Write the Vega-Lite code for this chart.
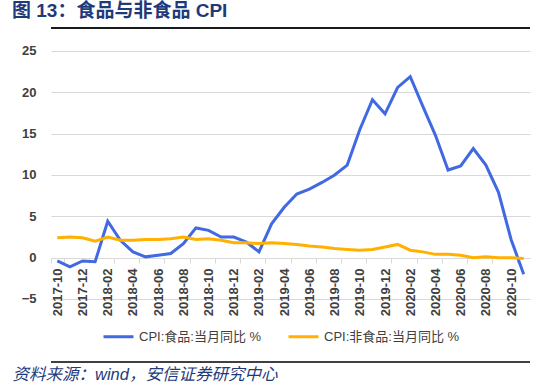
{
  "$schema": "https://vega.github.io/schema/vega-lite/v6.json",
  "width": 479,
  "height": 336,
  "autosize": "none",
  "padding": {"left": 51, "top": 27, "right": 20, "bottom": 24},
  "background": "white",
  "config": {"view": {"stroke": null}, "font": "Liberation Sans, Noto Sans CJK SC"},
  "title": {
    "text": "图 13：食品与非食品 CPI",
    "anchor": "start",
    "frame": "group",
    "dx": -39,
    "offset": 6,
    "fontSize": 19,
    "fontWeight": "bold",
    "color": "#1F3A7A",
    "font": "Liberation Sans, Noto Sans CJK SC"
  },
  "data": {
    "values": [
      {"month": "2017-10", "series": "CPI:食品:当月同比 %", "value": -0.4},
      {"month": "2017-11", "series": "CPI:食品:当月同比 %", "value": -1.1},
      {"month": "2017-12", "series": "CPI:食品:当月同比 %", "value": -0.4},
      {"month": "2018-01", "series": "CPI:食品:当月同比 %", "value": -0.5},
      {"month": "2018-02", "series": "CPI:食品:当月同比 %", "value": 4.4},
      {"month": "2018-03", "series": "CPI:食品:当月同比 %", "value": 2.1},
      {"month": "2018-04", "series": "CPI:食品:当月同比 %", "value": 0.7},
      {"month": "2018-05", "series": "CPI:食品:当月同比 %", "value": 0.1},
      {"month": "2018-06", "series": "CPI:食品:当月同比 %", "value": 0.3},
      {"month": "2018-07", "series": "CPI:食品:当月同比 %", "value": 0.5},
      {"month": "2018-08", "series": "CPI:食品:当月同比 %", "value": 1.7},
      {"month": "2018-09", "series": "CPI:食品:当月同比 %", "value": 3.6},
      {"month": "2018-10", "series": "CPI:食品:当月同比 %", "value": 3.3},
      {"month": "2018-11", "series": "CPI:食品:当月同比 %", "value": 2.5},
      {"month": "2018-12", "series": "CPI:食品:当月同比 %", "value": 2.5},
      {"month": "2019-01", "series": "CPI:食品:当月同比 %", "value": 1.9},
      {"month": "2019-02", "series": "CPI:食品:当月同比 %", "value": 0.7},
      {"month": "2019-03", "series": "CPI:食品:当月同比 %", "value": 4.1},
      {"month": "2019-04", "series": "CPI:食品:当月同比 %", "value": 6.1},
      {"month": "2019-05", "series": "CPI:食品:当月同比 %", "value": 7.7},
      {"month": "2019-06", "series": "CPI:食品:当月同比 %", "value": 8.3},
      {"month": "2019-07", "series": "CPI:食品:当月同比 %", "value": 9.1},
      {"month": "2019-08", "series": "CPI:食品:当月同比 %", "value": 10.0},
      {"month": "2019-09", "series": "CPI:食品:当月同比 %", "value": 11.2},
      {"month": "2019-10", "series": "CPI:食品:当月同比 %", "value": 15.5},
      {"month": "2019-11", "series": "CPI:食品:当月同比 %", "value": 19.1},
      {"month": "2019-12", "series": "CPI:食品:当月同比 %", "value": 17.4},
      {"month": "2020-01", "series": "CPI:食品:当月同比 %", "value": 20.6},
      {"month": "2020-02", "series": "CPI:食品:当月同比 %", "value": 21.9},
      {"month": "2020-03", "series": "CPI:食品:当月同比 %", "value": 18.3},
      {"month": "2020-04", "series": "CPI:食品:当月同比 %", "value": 14.8},
      {"month": "2020-05", "series": "CPI:食品:当月同比 %", "value": 10.6},
      {"month": "2020-06", "series": "CPI:食品:当月同比 %", "value": 11.1},
      {"month": "2020-07", "series": "CPI:食品:当月同比 %", "value": 13.2},
      {"month": "2020-08", "series": "CPI:食品:当月同比 %", "value": 11.2},
      {"month": "2020-09", "series": "CPI:食品:当月同比 %", "value": 7.9},
      {"month": "2020-10", "series": "CPI:食品:当月同比 %", "value": 2.2},
      {"month": "2020-11", "series": "CPI:食品:当月同比 %", "value": -2.0},
      {"month": "2017-10", "series": "CPI:非食品:当月同比 %", "value": 2.4},
      {"month": "2017-11", "series": "CPI:非食品:当月同比 %", "value": 2.5},
      {"month": "2017-12", "series": "CPI:非食品:当月同比 %", "value": 2.4},
      {"month": "2018-01", "series": "CPI:非食品:当月同比 %", "value": 2.0},
      {"month": "2018-02", "series": "CPI:非食品:当月同比 %", "value": 2.5},
      {"month": "2018-03", "series": "CPI:非食品:当月同比 %", "value": 2.1},
      {"month": "2018-04", "series": "CPI:非食品:当月同比 %", "value": 2.1},
      {"month": "2018-05", "series": "CPI:非食品:当月同比 %", "value": 2.2},
      {"month": "2018-06", "series": "CPI:非食品:当月同比 %", "value": 2.2},
      {"month": "2018-07", "series": "CPI:非食品:当月同比 %", "value": 2.3},
      {"month": "2018-08", "series": "CPI:非食品:当月同比 %", "value": 2.5},
      {"month": "2018-09", "series": "CPI:非食品:当月同比 %", "value": 2.2},
      {"month": "2018-10", "series": "CPI:非食品:当月同比 %", "value": 2.3},
      {"month": "2018-11", "series": "CPI:非食品:当月同比 %", "value": 2.1},
      {"month": "2018-12", "series": "CPI:非食品:当月同比 %", "value": 1.8},
      {"month": "2019-01", "series": "CPI:非食品:当月同比 %", "value": 1.8},
      {"month": "2019-02", "series": "CPI:非食品:当月同比 %", "value": 1.7},
      {"month": "2019-03", "series": "CPI:非食品:当月同比 %", "value": 1.8},
      {"month": "2019-04", "series": "CPI:非食品:当月同比 %", "value": 1.7},
      {"month": "2019-05", "series": "CPI:非食品:当月同比 %", "value": 1.6},
      {"month": "2019-06", "series": "CPI:非食品:当月同比 %", "value": 1.4},
      {"month": "2019-07", "series": "CPI:非食品:当月同比 %", "value": 1.3},
      {"month": "2019-08", "series": "CPI:非食品:当月同比 %", "value": 1.1},
      {"month": "2019-09", "series": "CPI:非食品:当月同比 %", "value": 1.0},
      {"month": "2019-10", "series": "CPI:非食品:当月同比 %", "value": 0.9},
      {"month": "2019-11", "series": "CPI:非食品:当月同比 %", "value": 1.0},
      {"month": "2019-12", "series": "CPI:非食品:当月同比 %", "value": 1.3},
      {"month": "2020-01", "series": "CPI:非食品:当月同比 %", "value": 1.6},
      {"month": "2020-02", "series": "CPI:非食品:当月同比 %", "value": 0.9},
      {"month": "2020-03", "series": "CPI:非食品:当月同比 %", "value": 0.7},
      {"month": "2020-04", "series": "CPI:非食品:当月同比 %", "value": 0.4},
      {"month": "2020-05", "series": "CPI:非食品:当月同比 %", "value": 0.4},
      {"month": "2020-06", "series": "CPI:非食品:当月同比 %", "value": 0.3},
      {"month": "2020-07", "series": "CPI:非食品:当月同比 %", "value": 0.0},
      {"month": "2020-08", "series": "CPI:非食品:当月同比 %", "value": 0.1},
      {"month": "2020-09", "series": "CPI:非食品:当月同比 %", "value": 0.0},
      {"month": "2020-10", "series": "CPI:非食品:当月同比 %", "value": 0.0},
      {"month": "2020-11", "series": "CPI:非食品:当月同比 %", "value": -0.1}
    ]
  },
  "layer": [
    {
      "mark": {"type": "line", "strokeWidth": 3},
      "encoding": {
        "x": {
          "field": "month",
          "type": "ordinal",
          "scale": {"type": "band", "paddingInner": 0, "paddingOuter": 0},
          "axis": {
            "title": "资料来源：wind，安信证券研究中心",
            "titleX": -39,
            "titleY": 116,
            "titleAlign": "left",
            "titleBaseline": "middle",
            "titleFontStyle": "italic",
            "titleFontWeight": "normal",
            "titleFontSize": 16.5,
            "titleColor": "#1F3A7A",
            "offset": -105,
            "labelAngle": -90,
            "labelAlign": "right",
            "labelBaseline": "middle",
            "labelPadding": 5,
            "labelFontSize": 13,
            "labelFontWeight": "bold",
            "labelColor": "#404040",
            "labelOverlap": false,
            "values": ["2017-10", "2017-12", "2018-02", "2018-04", "2018-06", "2018-08", "2018-10", "2018-12", "2019-02", "2019-04", "2019-06", "2019-08", "2019-10", "2019-12", "2020-02", "2020-04", "2020-06", "2020-08", "2020-10"],
            "tickBand": "extent",
            "tickColor": "#d9d9d9",
            "tickSize": 5,
            "domainColor": "#d9d9d9",
            "grid": false
          }
        },
        "y": {
          "field": "value",
          "type": "quantitative",
          "title": null,
          "scale": {"domain": [-12.742, 27.903], "nice": false, "zero": false},
          "axis": {
            "values": [-5, 0, 5, 10, 15, 20, 25],
            "grid": true,
            "gridColor": "#d9d9d9",
            "domain": false,
            "ticks": false,
            "labelPadding": 15,
            "labelFontSize": 13,
            "labelFontWeight": "bold",
            "labelColor": "#404040"
          }
        },
        "color": {
          "field": "series",
          "type": "nominal",
          "scale": {"domain": ["CPI:食品:当月同比 %", "CPI:非食品:当月同比 %"], "range": ["#4169E1", "#FFB000"]},
          "legend": {
            "orient": "none",
            "legendX": 51,
            "legendY": 293,
            "direction": "horizontal",
            "title": null,
            "symbolType": "stroke",
            "symbolSize": 900,
            "symbolStrokeWidth": 3,
            "labelFontSize": 13,
            "labelColor": "#404040",
            "labelLimit": 300,
            "columnPadding": 20
          }
        }
      }
    },
    {
      "mark": {"type": "rule", "color": "#1a1a1a", "strokeWidth": 2},
      "encoding": {"y": {"datum": 27.78}}
    },
    {
      "mark": {"type": "rule", "color": "#404040", "strokeWidth": 2},
      "encoding": {"y": {"datum": -12.62}}
    }
  ]
}
